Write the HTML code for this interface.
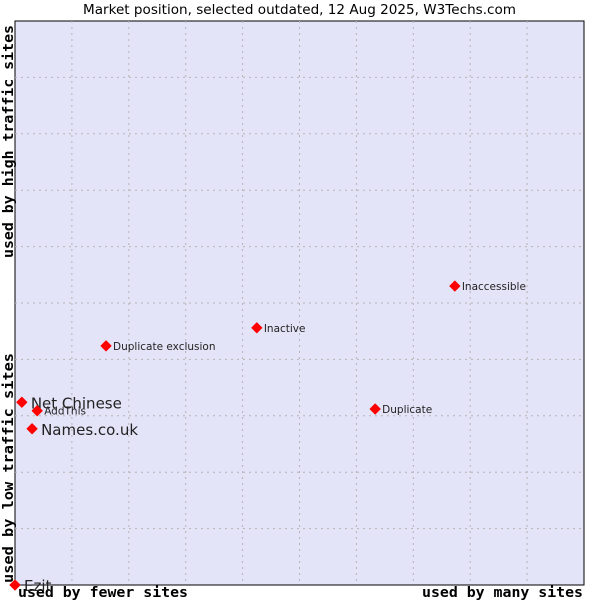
<!DOCTYPE html>
<html><head><meta charset="utf-8"><style>
body{margin:0;background:#fff;width:600px;height:600px;overflow:hidden}
svg{display:block}
</style></head><body>
<svg id="chart" width="600" height="600" xmlns="http://www.w3.org/2000/svg">
<text x="83" y="14" textLength="433" lengthAdjust="spacingAndGlyphs" font-family="'DejaVu Sans', 'Liberation Sans', sans-serif" font-size="13" fill="#000">Market position, selected outdated, 12 Aug 2025, W3Techs.com</text>
<rect x="15" y="21" width="569" height="564" fill="#e4e4f8" stroke="#000" stroke-width="1"/>
<g id="grid"></g>
<text x="18" y="597" textLength="170" lengthAdjust="spacingAndGlyphs" font-family="'DejaVu Sans Mono', 'Liberation Mono', monospace" font-size="14" font-weight="bold" fill="#000">used by fewer sites</text>
<text x="422" y="597" textLength="161" lengthAdjust="spacingAndGlyphs" font-family="'DejaVu Sans Mono', 'Liberation Mono', monospace" font-size="14" font-weight="bold" fill="#000">used by many sites</text>
<text transform="translate(13,583) rotate(-90)" textLength="230" lengthAdjust="spacingAndGlyphs" font-family="'DejaVu Sans Mono', 'Liberation Mono', monospace" font-size="14" font-weight="bold" fill="#000">used by low traffic sites</text>
<text transform="translate(13,258) rotate(-90)" textLength="233" lengthAdjust="spacingAndGlyphs" font-family="'DejaVu Sans Mono', 'Liberation Mono', monospace" font-size="14" font-weight="bold" fill="#000">used by high traffic sites</text>
<g id="points"></g>
</svg>
<script>
const names = ["Net Chinese","AddThis","Names.co.uk","Ezit","Duplicate exclusion","Inactive","Inaccessible","Duplicate"];
const xValues = [1.2,3.9,3.0,0,16.0,42.5,77.3,63.3];
const yValues = [32.4,30.9,27.7,0,42.4,45.6,53.0,31.2];
const bigLabel = [true,false,true,true,false,false,false,false];
const NS="http://www.w3.org/2000/svg";
const L=15,T=21,W=569,H=564;
function xs(v){return L+v/100*W;}
function ys(v){return T+H-v/100*H;}
const grid=document.getElementById('grid');
for(let k=1;k<10;k++){
  const vx=document.createElementNS(NS,'line');
  
  
  vx.setAttribute('x1',xs(k*10));vx.setAttribute('x2',xs(k*10));vx.setAttribute('y1',T);vx.setAttribute('y2',T+H);
  vx.setAttribute('stroke','#b4b4b4');vx.setAttribute('stroke-dasharray','2,4');
  grid.appendChild(vx);
  const hy=document.createElementNS(NS,'line');
  
  
  hy.setAttribute('y1',ys(k*10));hy.setAttribute('y2',ys(k*10));hy.setAttribute('x1',L);hy.setAttribute('x2',L+W);
  hy.setAttribute('stroke','#b4b4b4');hy.setAttribute('stroke-dasharray','2,4');
  grid.appendChild(hy);
}
const pts=document.getElementById('points');
for(let i=0;i<names.length;i++){
  const cx=xs(xValues[i]),cy=ys(yValues[i]);
  const d=document.createElementNS(NS,'path');
  
  
  d.setAttribute('d',`M${cx-5},${cy} L${cx},${cy-5} L${cx+5},${cy} L${cx},${cy+5} Z`);
  d.setAttribute('fill','#f00');
  d.setAttribute('stroke','#f00');
  d.setAttribute('stroke-linejoin','round');
  pts.appendChild(d);
  const t=document.createElementNS(NS,'text');
  
  
  t.setAttribute('x',cx+(bigLabel[i]?9:7));
  t.setAttribute('y',cy+(bigLabel[i]?6:4));
  t.setAttribute('font-family',"'DejaVu Sans','Liberation Sans',sans-serif");
  t.setAttribute('font-size',bigLabel[i]?'15':'10.5');
  t.setAttribute('fill','#222');
  t.textContent=names[i];
  pts.appendChild(t);
}
</script>
</body></html>
